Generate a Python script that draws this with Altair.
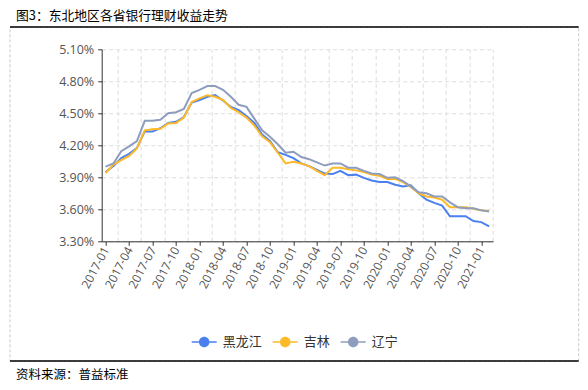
import altair as alt
import pandas as pd

# ---------------- data ----------------
months = [str(p) for p in pd.period_range("2017-01", periods=50, freq="M")]
series_names = ["黑龙江", "吉林", "辽宁"]
heilongjiang = [3.95, 4.005, 4.08, 4.12, 4.175, 4.33, 4.33, 4.36, 4.41, 4.42,
                4.465, 4.60, 4.625, 4.655, 4.67, 4.62, 4.56, 4.53, 4.475, 4.41,
                4.30, 4.24, 4.135, 4.11, 4.08, 4.03, 4.005, 3.97, 3.935, 3.93,
                3.96, 3.92, 3.925, 3.895, 3.87, 3.855, 3.855, 3.83, 3.815, 3.825,
                3.75, 3.69, 3.66, 3.635, 3.535, 3.535, 3.535, 3.49, 3.48, 3.44]
jilin = [3.94, 4.02, 4.06, 4.10, 4.17, 4.34, 4.35, 4.355, 4.405, 4.41,
         4.46, 4.605, 4.64, 4.67, 4.655, 4.625, 4.55, 4.51, 4.46, 4.385,
         4.285, 4.23, 4.13, 4.03, 4.045, 4.03, 4.005, 3.96, 3.92, 3.99,
         3.99, 3.975, 3.965, 3.95, 3.925, 3.915, 3.885, 3.885, 3.855, 3.81,
         3.75, 3.72, 3.71, 3.69, 3.62, 3.62, 3.62, 3.605, 3.59, 3.585]
liaoning = [4.00, 4.03, 4.145, 4.19, 4.24, 4.43, 4.43, 4.44, 4.50, 4.51,
            4.54, 4.69, 4.72, 4.755, 4.755, 4.72, 4.655, 4.58, 4.56, 4.45,
            4.34, 4.28, 4.21, 4.13, 4.14, 4.09, 4.07, 4.04, 4.01, 4.03,
            4.03, 3.99, 3.99, 3.96, 3.935, 3.93, 3.895, 3.90, 3.865, 3.815,
            3.76, 3.75, 3.72, 3.72, 3.665, 3.62, 3.61, 3.61, 3.59, 3.58]
y_ticks = [3.3, 3.6, 3.9, 4.2, 4.5, 4.8, 5.1]
title_text = "图3：东北地区各省银行理财收益走势"
source_text = "资料来源：普益标准"

# ---------------- styling ----------------
colors = ["#4A80F0", "#FDB927", "#8E9DBE"]
W, H = 391.3, 192
PL, PT = 93.7, 41.3
FONT = "Open Sans"
CJK = "Noto Sans CJK SC"

rows = []
for name, vals in zip(series_names, [heilongjiang, jilin, liaoning]):
    for i, (m, v) in enumerate(zip(months, vals)):
        rows.append({"idx": i, "month": m, "series": name, "key": "#" + name,
                     "value": v})
df = pd.DataFrame(rows)

x_tick_idx = list(range(0, len(months), 3))
label_arr = "[" + ",".join("'%s'" % m for m in months) + "]"
x_scale = alt.Scale(domain=[-0.5, len(months) - 0.5], nice=False, zero=False)
y_scale = alt.Scale(domain=[y_ticks[0], y_ticks[-1]], nice=False, zero=False)

y_axis = alt.Axis(values=y_ticks, labelExpr="format(datum.value, '.2f') + '%'",
                  title=None, grid=True, gridDash=[4, 3], gridColor="#dcdcdc",
                  domainColor="#333333", tickColor="#333333", tickSize=4,
                  labelColor="#555555", labelFont=FONT, labelFontSize=12.5,
                  labelPadding=4)

grid_layer = alt.Chart(df).mark_line(opacity=0).encode(
    x=alt.X("idx:Q", scale=x_scale,
            axis=alt.Axis(orient="top", values=[k + 1.5 for k in x_tick_idx],
                          grid=True, gridDash=[4, 3], gridColor="#dcdcdc",
                          labels=False, ticks=False, domain=False, title=None)),
    y=alt.Y("value:Q", scale=y_scale, axis=y_axis),
    detail="series:N",
)

# legend symbol: short line with a dot in the middle (unit box -1..1)
legend_path = ("M-1,-0.065L1,-0.065L1,0.065L-1,0.065Z"
               "M0.42,0A0.42,0.42,0,1,1,-0.42,0A0.42,0.42,0,1,1,0.42,0Z")

lines = alt.Chart(df).mark_line(strokeWidth=2).encode(
    x=alt.X("idx:Q", scale=x_scale,
            axis=alt.Axis(values=x_tick_idx, labelExpr=label_arr + "[datum.value]",
                          labelAngle=-62, labelAlign="right", labelBaseline="middle",
                          labelOverlap=False, grid=False, domainColor="#333333",
                          tickColor="#333333", tickSize=4, labelColor="#555555",
                          labelFont=FONT, labelFontSize=12, labelPadding=2,
                          title=None)),
    y=alt.Y("value:Q", scale=y_scale, axis=y_axis),
    stroke=alt.Stroke("series:N", scale=alt.Scale(domain=series_names, range=colors),
                      legend=None),
)

legend_dots = alt.Chart(df).mark_point(filled=True, opacity=1, size=0).encode(
    x=alt.X("idx:Q", scale=x_scale, axis=None),
    y=alt.Y("value:Q", scale=y_scale, axis=y_axis),
    fill=alt.Fill("key:N",
                  scale=alt.Scale(domain=["#" + n for n in series_names], range=colors),
                  legend=alt.Legend(
                      title=None, orient="none", direction="horizontal",
                      legendX=90, legendY=280, padding=0,
                      symbolType=legend_path, symbolSize=625,
                      symbolStrokeWidth=0, symbolOpacity=1,
                      labelFont=CJK, labelFontSize=13, labelColor="#333333",
                      labelOffset=6, columnPadding=10,
                      labelExpr="substring(datum.label, 1)")),
)

deco = pd.DataFrame({"k": [0]})
left, right = 10 - 101.7, 578.7 - 101.7
frame = alt.Chart(deco).mark_rect(fillOpacity=0, stroke="#c8c8c8",
                                  strokeDash=[3, 2], strokeWidth=1).encode(
    x=alt.value(left), x2=alt.value(right), y=alt.value(-22.3), y2=alt.value(311.7))
top_line = alt.Chart(deco).mark_rule(color="black", strokeWidth=1.6).encode(
    x=alt.value(left), x2=alt.value(right), y=alt.value(-22.3))
bottom_line = alt.Chart(deco).mark_rule(color="black", strokeWidth=1.6).encode(
    x=alt.value(left), x2=alt.value(right), y=alt.value(311.7))
title_txt = alt.Chart(deco).mark_text(align="left", baseline="middle", font=CJK,
                                      fontSize=12.8, color="black").encode(
    x=alt.value(16 - 101.7), y=alt.value(-33.5), text=alt.value(title_text))
source_txt = alt.Chart(deco).mark_text(align="left", baseline="middle", font=CJK,
                                       fontSize=12.5, color="black").encode(
    x=alt.value(16 - 101.7), y=alt.value(325.7), text=alt.value(source_text))

chart = alt.layer(frame, grid_layer, lines, legend_dots, top_line, bottom_line,
                  title_txt, source_txt).resolve_axis(x="independent").properties(
    width=W, height=H,
    padding={"left": PL, "top": PT, "right": 572 - PL - W, "bottom": 378 - PT - H},
    autosize=alt.AutoSizeParams(type="none"),
).configure_view(stroke="transparent")

chart.save("out.html", embed_options={"renderer": "svg", "actions": False})
